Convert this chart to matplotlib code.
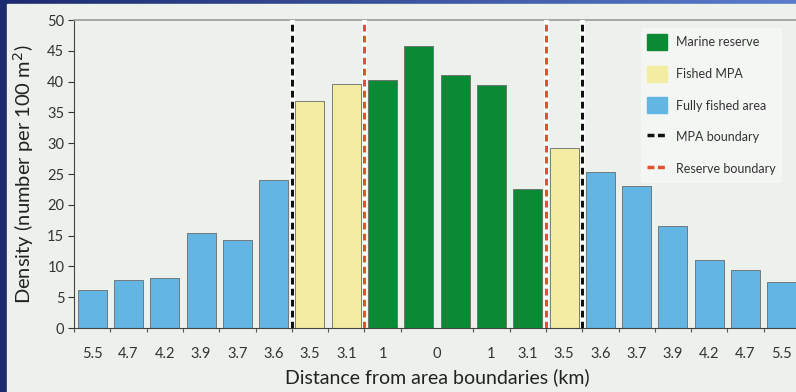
import numpy as np
import matplotlib
matplotlib.use("Agg")
import matplotlib.pyplot as plt
from matplotlib.patches import Patch, Rectangle
from matplotlib.lines import Line2D

plt.rcParams['font.family'] = ['Lato', 'DejaVu Sans']

# bar heights, left to right (density, number per 100 m2)
density = [6.2, 7.8, 8.1, 15.5, 14.3, 24.1, 36.9, 39.6, 40.3, 45.8,
           41.1, 39.4, 22.5, 29.3, 25.4, 23.1, 16.6, 11.0, 9.4, 7.5]
zone = ['fished'] * 6 + ['mpa'] * 2 + ['reserve'] * 5 + ['mpa'] + ['fished'] * 6
dist_labels = ['5.5', '4.7', '4.2', '3.9', '3.7', '3.6', '3.5', '3.1', '1',
               '0', '1', '3.1', '3.5', '3.6', '3.7', '3.9', '4.2', '4.7', '5.5']
label_pos = [0.5, 1.5, 2.5, 3.5, 4.5, 5.5, 6.5, 7.5, 8.5, 10,
             11.5, 12.5, 13.5, 14.5, 15.5, 16.5, 17.5, 18.5, 19.5]
mpa_bounds = [6, 14]
reserve_bounds = [8, 13]

colors = {'reserve': '#0b8a35', 'mpa': '#f3eda3', 'fished': '#63b5e3'}
panel = '#edf1ec'

fig = plt.figure(figsize=(7.96, 3.92), dpi=100, facecolor=panel)

# blue frame (top and left strips)
bg = fig.add_axes([0, 0, 1, 1], zorder=-5)
grad = np.linspace(0, 1, 256)
c0 = np.array([0x1c, 0x2a, 0x6e]) / 255
c1 = np.array([0x5a, 0x7c, 0xcc]) / 255
img = (c0[None, :] * (1 - grad[:, None]) + c1[None, :] * grad[:, None])[None, :, :]
bg.imshow(img, extent=[0, 1, 0, 1], aspect='auto')
bg.add_patch(Rectangle((7 / 796, 0), 1, 1 - 4 / 392, color=panel))
bg.set_xlim(0, 1)
bg.set_ylim(0, 1)
bg.axis('off')

ax = fig.add_axes([74 / 796, 64 / 392, 726 / 796, 308 / 392])
ax.set_facecolor(panel)

x = np.arange(len(density)) + 0.5
ax.bar(x, density, width=0.8, color=[colors[z] for z in zone],
       edgecolor='#6a6a6a', linewidth=0.6, zorder=2)

for b in mpa_bounds:
    ax.axvline(b, color='white', lw=3.5, zorder=3)
    ax.axvline(b, color='#111111', lw=2.2, ls=(0, (2.2, 1.4)), zorder=4)
for b in reserve_bounds:
    ax.axvline(b, color='white', lw=3.5, zorder=3)
    ax.axvline(b, color='#e0522e', lw=2.2, ls=(0, (2.2, 1.4)), zorder=4)

ax.set_xlim(0, 20)
ax.set_ylim(0, 50)
ax.set_yticks(range(0, 51, 5))
ax.set_xticks(label_pos)
ax.set_xticklabels(dist_labels)
ax.set_xticks(range(0, 21), minor=True)
ax.tick_params(axis='x', which='major', length=0, pad=14, labelsize=10.5, colors='#333333')
ax.tick_params(axis='x', which='minor', length=3, width=0.8, color='#555555')
ax.tick_params(axis='y', length=4, width=0.8, labelsize=10.5, colors='#333333', pad=3)

ax.spines['right'].set_visible(False)
ax.spines['top'].set_color('#9a9a9a')
ax.spines['top'].set_linewidth(1.2)
ax.spines['left'].set_color('#444444')
ax.spines['bottom'].set_color('#444444')

ax.set_xlabel('Distance from area boundaries (km)', fontsize=14, color='#222222', labelpad=5)
ax.set_ylabel('Density (number per 100 m$^2$)', fontsize=14.5, color='#222222', labelpad=8)

handles = [Patch(color=colors['reserve'], label='Marine reserve'),
           Patch(color=colors['mpa'], label='Fished MPA'),
           Patch(color=colors['fished'], label='Fully fished area'),
           Line2D([], [], color='#111111', lw=2.5, ls=(0, (2, 1)), label='MPA boundary'),
           Line2D([], [], color='#e0522e', lw=2.5, ls=(0, (2, 1)), label='Reserve boundary')]
leg = ax.legend(handles=handles, loc='upper left', bbox_to_anchor=(0.772, 0.995),
                fontsize=9, frameon=True, facecolor='#f4f6f4', edgecolor='none',
                framealpha=1, handlelength=1.6, handleheight=1.6, labelspacing=1.25,
                borderpad=0.5, handletextpad=0.72)
leg.set_zorder(1)  # keep the bars on top of the legend box
for t in leg.get_texts():
    t.set_color('#333333')

fig.savefig('out.png', dpi=100, facecolor=fig.get_facecolor())
